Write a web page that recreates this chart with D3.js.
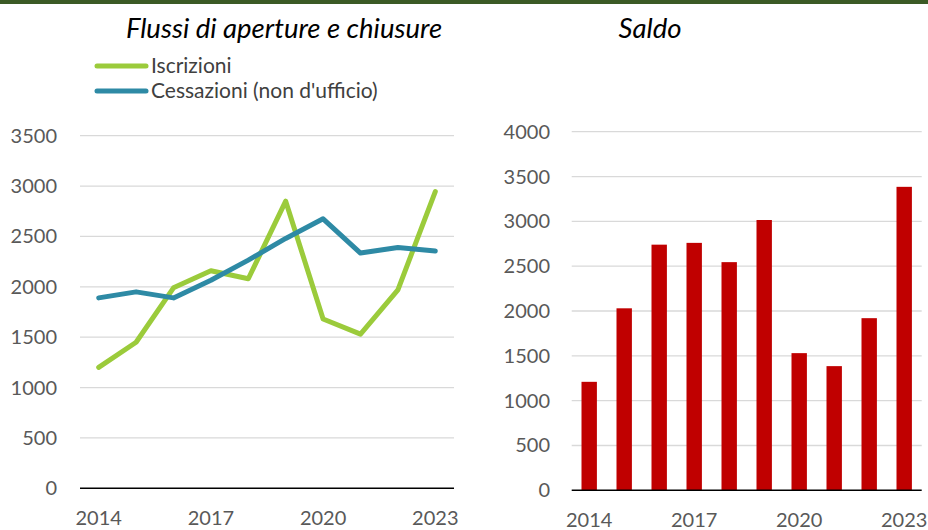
<!DOCTYPE html>
<html>
<head>
<meta charset="utf-8">
<script src="https://cdn.jsdelivr.net/npm/d3@7"></script>
<style>
  body { margin: 0; background: #fff; }
  svg { display: block; font-family: Lato, "Open Sans", sans-serif; }
</style>
</head>
<body>
<svg class="vis" width="928" height="530"></svg>
<script>
// data
const anni = ["2014", "2015", "2016", "2017", "2018", "2019", "2020", "2021", "2022", "2023"];
const anni_label = ["2014", "2017", "2020", "2023"];
const iscrizioni = [1200, 1450, 1990, 2160, 2080, 2850, 1680, 1530, 1970, 2945];
const cessazioni = [1890, 1950, 1890, 2065, 2265, 2480, 2675, 2335, 2390, 2355];
const saldo = [1210, 2030, 2740, 2760, 2545, 3015, 1530, 1385, 1920, 3385];
const ticks_flussi = [0, 500, 1000, 1500, 2000, 2500, 3000, 3500];
const ticks_saldo = [0, 500, 1000, 1500, 2000, 2500, 3000, 3500, 4000];

const colori = {
    iscr: "#9bcb3b",
    cess: "#2e8aa5",
    saldo: "#c00000",
    grid: "#d9d9d9",
    testo: "#595959"
};

const svg = d3.select("svg.vis");

// top band
svg.append("rect").attr("x", 0).attr("y", 0).attr("width", 928).attr("height", 4)
  .attr("fill", "#3b5a25");

// titles
svg.append("text").attr("x", 284).attr("y", 38).attr("text-anchor", "middle")
  .attr("font-size", 27.5).attr("font-style", "italic").attr("fill", "#000")
  .text("Flussi di aperture e chiusure");
svg.append("text").attr("x", 650).attr("y", 38).attr("text-anchor", "middle")
  .attr("font-size", 27.5).attr("font-style", "italic").attr("fill", "#000")
  .text("Saldo");

// legend
const legenda = [
    { nome: "Iscrizioni", col: colori.iscr },
    { nome: "Cessazioni (non d'ufficio)", col: colori.cess }
];
legenda.forEach((d, i) => {
    const y = 66 + i * 25;
    svg.append("line").attr("x1", 97).attr("x2", 146).attr("y1", y).attr("y2", y)
      .attr("stroke", d.col).attr("stroke-width", 5).attr("stroke-linecap", "round");
    svg.append("text").attr("x", 151).attr("y", y + 7).attr("font-size", 21)
      .attr("fill", "#404040").text(d.nome);
});

function asse_y(g, y, ticks, x0, x1, lab_x) {
    g.selectAll("line.grid").data(ticks.filter(t => t > 0)).join("line")
      .attr("class", "grid")
      .attr("x1", x0).attr("x2", x1)
      .attr("y1", d => y(d)).attr("y2", d => y(d))
      .attr("stroke", colori.grid).attr("stroke-width", 1.3);
    g.selectAll("text.ylab").data(ticks).join("text")
      .attr("class", "ylab")
      .attr("x", lab_x).attr("y", d => y(d) + 7)
      .attr("text-anchor", "end").attr("font-size", 20).attr("fill", colori.testo)
      .text(d => d);
}

// ---- left: flussi
const xL = d3.scalePoint().domain(anni).range([80, 454]).padding(0.5);
const yL = d3.scaleLinear().domain([0, 3500]).range([488.3, 135.7]);
const gL = svg.append("g");
asse_y(gL, yL, ticks_flussi, 80, 454, 57);

const linea = d3.line().x((d, i) => xL(anni[i])).y(d => yL(d));
gL.append("path").datum(iscrizioni).attr("d", linea)
  .attr("fill", "none").attr("stroke", colori.iscr).attr("stroke-width", 5)
  .attr("stroke-linecap", "round").attr("stroke-linejoin", "round");
gL.append("path").datum(cessazioni).attr("d", linea)
  .attr("fill", "none").attr("stroke", colori.cess).attr("stroke-width", 5)
  .attr("stroke-linecap", "round").attr("stroke-linejoin", "round");

gL.append("line").attr("x1", 80).attr("x2", 454).attr("y1", yL(0)).attr("y2", yL(0))
  .attr("stroke", "#000").attr("stroke-width", 1.5);
gL.selectAll("text.xlab").data(anni_label).join("text")
  .attr("class", "xlab")
  .attr("x", d => xL(d)).attr("y", 525).attr("text-anchor", "middle")
  .attr("font-size", 20).attr("fill", colori.testo).text(d => d);

// ---- right: saldo
const xR = d3.scaleBand().domain(anni).range([571.7, 921.7]).paddingInner(0.56).paddingOuter(0.28);
const yR = d3.scaleLinear().domain([0, 4000]).range([490.3, 131.7]);
const gR = svg.append("g");
asse_y(gR, yR, ticks_saldo, 571.7, 921.7, 550);

gR.selectAll("rect.bar").data(saldo).join("rect")
  .attr("class", "bar")
  .attr("x", (d, i) => xR(anni[i]))
  .attr("width", xR.bandwidth())
  .attr("y", d => yR(d))
  .attr("height", d => yR(0) - yR(d))
  .attr("fill", colori.saldo);

gR.append("line").attr("x1", 571.7).attr("x2", 921.7).attr("y1", yR(0)).attr("y2", yR(0))
  .attr("stroke", "#000").attr("stroke-width", 1.5);
gR.selectAll("text.xlab").data(anni_label).join("text")
  .attr("class", "xlab")
  .attr("x", d => xR(d) + xR.bandwidth() / 2).attr("y", 527).attr("text-anchor", "middle")
  .attr("font-size", 20).attr("fill", colori.testo).text(d => d);
</script>
</body>
</html>
